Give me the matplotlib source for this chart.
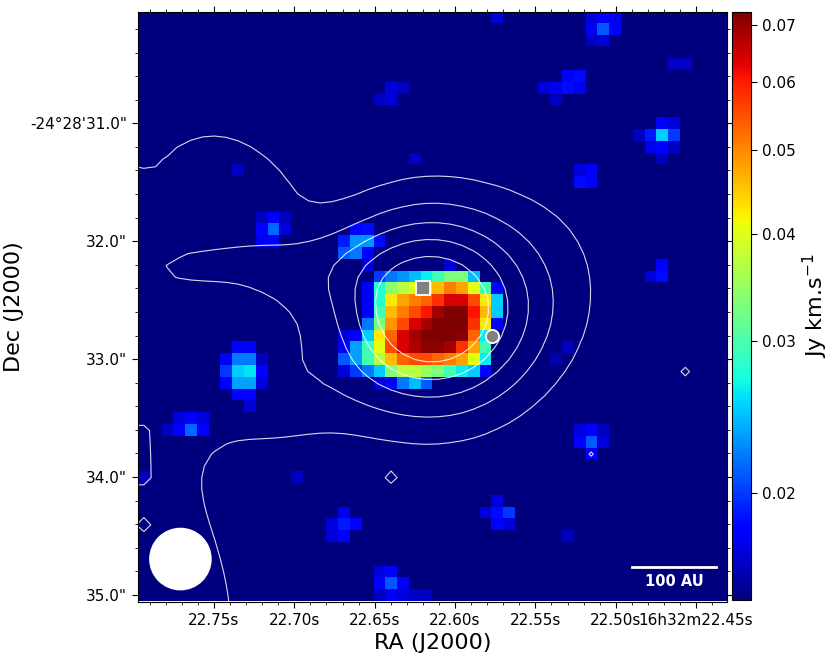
import numpy as np
import matplotlib
matplotlib.use("Agg")
import matplotlib.pyplot as plt
from matplotlib.colors import LogNorm
from matplotlib.patches import Ellipse
from matplotlib.ticker import FixedLocator, FixedFormatter, NullLocator

# ---- map geometry: 50 x 50 pixels of 0.1 arcsec ----
n_pix = 50
pix_arcsec = 0.1
dec_deg = -24.475
ra_left = 22.7973      # RA seconds (16h32m..) at the left edge
dec_top = 30.056       # Dec arcsec (-24d28m..) at the top edge
ra_pix = pix_arcsec / (15.0 * np.cos(np.radians(dec_deg)))

# ---- moment-0 map (Jy km/s x 1000); background is below the colour range ----
background = 10.0
core_col0, core_row0 = 17, 18
core_values = [
    [0,  18, 18.5, 0, 0,  0,  0,  0,  0,  0,  0,  0,  0,  0],
    [19, 23, 23, 18.5, 0, 0,  0,  0,  0,  0,  0,  0,  0,  0],
    [21, 22, 18,  0,  0,  0,  0,  0,  0,  0,  0,  0,  0,  0],
    [0,  0, 17,  0,  0,  0,  0,  0,  0, 17,  0,  0,  0,  0],
    [0,  0,  0, 20, 22, 23, 24.5, 26.5, 29.5, 33, 33, 24.5, 0, 0],
    [0,  0, 18, 28, 34, 37, 40, 42.5, 46, 51, 48, 40, 29.5, 18],
    [0,  0, 18, 28, 42.5, 48, 51, 53, 58, 64, 64, 55.5, 42.5, 25],
    [0,  0, 18, 29.5, 46, 51, 55.5, 61, 69, 73, 73, 61, 46, 25],
    [0,  0, 22, 33, 49, 55.5, 64, 69, 73, 73, 73, 58, 42.5, 18],
    [17, 18, 25, 42.5, 53, 64, 69, 73, 73, 73, 71, 53, 26.5, 0],
    [18, 23.5, 29.5, 40, 55.5, 64, 67.5, 71, 71, 69, 58, 48, 29.5, 0],
    [21, 23.5, 29.5, 37, 46, 53, 55.5, 55.5, 53, 51, 48, 40, 26.5, 0],
    [17, 20, 22, 25, 33, 37, 37, 35, 33, 29.5, 26.5, 25, 18, 0],
    [0,  0,  0, 17, 18, 22, 24.5, 21, 0,  0,  0,  0,  0,  0],
]

# isolated noise pixels: column, row (from top), value
spot_cols = [30, 38, 39, 40, 38, 39, 40, 38, 39, 45, 46,
             36, 37, 34, 35, 36, 37, 35,
             21, 22, 20, 21,
             44, 45, 42, 43, 44, 45, 43, 44, 45, 44,
             37, 38, 37, 38, 23, 8,
             10, 11, 12, 10, 11, 12, 10, 11,
             44, 43, 44,
             8, 9, 7, 8, 9, 10, 7, 8, 9, 10, 7, 8, 9, 10, 8, 9, 9,
             3, 4, 5, 2, 3, 4, 5,
             37, 38, 39, 37, 38, 39, 38,
             36, 35, 0, 13,
             30, 29, 30, 31, 30, 31,
             17, 16, 17, 18, 16, 17,
             20, 21, 20, 21, 22, 20, 21, 22, 23, 24,
             36]
spot_rows = [0, 0, 0, 0, 1, 1, 1, 2, 2, 4, 4,
             5, 5, 6, 6, 6, 6, 7,
             6, 6, 7, 7,
             9, 9, 10, 10, 10, 10, 11, 11, 11, 12,
             13, 13, 14, 14, 12, 13,
             17, 17, 17, 18, 18, 18, 19, 19,
             21, 22, 22,
             28, 28, 29, 29, 29, 29, 30, 30, 30, 30, 31, 31, 31, 31, 32, 32, 33,
             34, 34, 34, 35, 35, 35, 35,
             35, 35, 35, 36, 36, 36, 37,
             28, 29, 39, 39,
             41, 42, 42, 42, 43, 43,
             42, 43, 43, 43, 44, 44,
             47, 47, 48, 48, 48, 49, 49, 49, 49, 49,
             44]
spot_vals = [17, 17, 18, 17.5, 17.5, 21, 18, 16.5, 17, 16.5, 16.5,
             18, 18.5, 17, 17.5, 18.5, 17.5, 16.5,
             17, 16.5, 16.5, 17,
             18, 17, 16.5, 19, 25, 20, 17.5, 18, 16.5, 16.5,
             17, 18, 18.5, 18, 16.5, 16.5,
             16.5, 18, 16.5, 18, 21.5, 17, 17.5, 18,
             18, 17, 18.5,
             18, 18, 18, 22, 22, 16.5, 20, 25, 26, 18, 18, 23.5, 23.5, 17, 18, 18, 17,
             17, 18, 17, 16.5, 18, 21.5, 18,
             17, 18, 16.5, 18, 21, 17, 18,
             16.5, 16, 16.5, 16.5,
             17, 17, 18.5, 20, 18, 17,
             17.5, 17, 19, 18, 17, 18,
             17, 18, 18, 21, 18, 16.5, 17.5, 17, 16.5, 16.5,
             16.5]

# ---- contour map: smooth components (col, row, sigma col, sigma row, amplitude) ----
comp_col = [24.5, 36.0, -2.0, 6.0, 10.0, 9.0, 12.0, 11.5, 2.0, -3.0]
comp_row = [24.8, 21.0, 28.0, 12.0, 14.5, 20.8, 32.5, 28.0, 53.0, 14.0]
comp_sc = [6.0, 5.0, 8.0, 3.0, 3.0, 7.0, 5.0, 2.5, 5.0, 3.0]
comp_sr = [5.8, 7.0, 12.0, 2.2, 2.5, 2.7, 3.0, 4.0, 8.0, 3.0]
comp_amp = [6.6, 0.55, 1.5, 0.95, 0.8, 1.45, 0.8, 0.6, 1.6, 0.4]
# single-pixel features of the contour map
spike_col = [21, 46, 38, 0, 0, 0, 0, 0, 0, -1, -1, -1, -1, -1]
spike_row = [39, 30, 37, 43, 35, 36, 37, 38, 39, 35, 36, 37, 38, 39]
spike_add = [1.4, 1.5, 1.1, -0.85, -0.7, -0.7, -0.7, -0.7, -0.7,
             -0.7, -0.7, -0.7, -0.7, -0.7]
contour_levels = [1, 2, 3, 4, 5]

# sources, beam and scale bar
src_ra = [22.6202, 22.5771]
src_dec = [32.400, 32.804]
src_marker = ["s", "o"]
beam_ra, beam_dec, beam_arcsec = 22.7709, 34.696, 0.52
bar_au, dist_pc = 100, 140
bar_ra_right, bar_dec = 22.4376, 34.763

# colour scale
vmin, vmax = 0.0150, 0.0725
cbar_ticks = [0.02, 0.03, 0.04, 0.05, 0.06, 0.07]

# axis ticks
ra_major = [22.75, 22.70, 22.65, 22.60, 22.55, 22.50, 22.45]
ra_labels = ["22.75s", "22.70s", "22.65s", "22.60s", "22.55s", "22.50s", "16h32m22.45s"]
dec_major = [31.0, 32.0, 33.0, 34.0, 35.0]
dec_labels = ["-24°28'31.0\"", '32.0"', '33.0"', '34.0"', '35.0"']

# ---------------------------------------------------------------------------
img = np.full((n_pix, n_pix), background)
for r, row in enumerate(core_values):
    for c, val in enumerate(row):
        if val > 0:
            img[core_row0 + r, core_col0 + c] = val
for c, r, val in zip(spot_cols, spot_rows, spot_vals):
    img[r, c] = val
img = img / 1000.0

# contour field on a grid a bit larger than the displayed map
gcol = np.arange(-3, n_pix + 3)
cc, rr = np.meshgrid(gcol, gcol)
field = np.zeros(cc.shape)
for c0, r0, sc, sr, a in zip(comp_col, comp_row, comp_sc, comp_sr, comp_amp):
    field += a * np.exp(-0.5 * (((cc - c0) / sc) ** 2 + ((rr - r0) / sr) ** 2))
for c, r, d in zip(spike_col, spike_row, spike_add):
    field[r + 3, c + 3] += d
grid_ra = ra_left - (cc + 0.5) * ra_pix
grid_dec = dec_top + (rr + 0.5) * pix_arcsec

ra_right = ra_left - n_pix * ra_pix
dec_bottom = dec_top + n_pix * pix_arcsec

W, H = 830, 655
fig = plt.figure(figsize=(W / 100, H / 100), dpi=100)
ax = fig.add_axes([138 / W, (H - 601.5) / H, 588.5 / W, 589.5 / H])

im = ax.imshow(img, cmap="jet", norm=LogNorm(vmin=vmin, vmax=vmax),
               extent=[ra_left, ra_right, dec_bottom, dec_top],
               origin="upper", aspect="auto", interpolation="nearest")
ax.contour(grid_ra, grid_dec, field, levels=contour_levels,
           colors="white", linewidths=0.8, alpha=0.85)

for ra, dec, m in zip(src_ra, src_dec, src_marker):
    ax.plot(ra, dec, marker=m, ms=9.5, mfc="#808080", mec="white", mew=1.3, ls="none")

ra_per_arcsec = 1.0 / (15.0 * np.cos(np.radians(dec_deg)))
ax.add_patch(Ellipse((beam_ra, beam_dec), width=beam_arcsec * ra_per_arcsec,
                     height=beam_arcsec, color="white", zorder=5))

bar_arcsec = bar_au / dist_pc
bar_ra_left = bar_ra_right + bar_arcsec * ra_per_arcsec
ax.plot([bar_ra_left, bar_ra_right], [bar_dec, bar_dec], color="white", lw=2, zorder=5)
ax.text((bar_ra_left + bar_ra_right) / 2, bar_dec + 0.12, "%d AU" % bar_au,
        color="white", fontsize=10.5, fontweight="bold", ha="center", va="center")

ax.set_xlim(ra_left, ra_right)
ax.set_ylim(dec_bottom, dec_top)
ax.xaxis.set_major_locator(FixedLocator(ra_major))
ax.xaxis.set_major_formatter(FixedFormatter(ra_labels))
ax.xaxis.set_minor_locator(FixedLocator(np.round(np.arange(22.44, 22.795, 0.01), 2)))
ax.yaxis.set_major_locator(FixedLocator(dec_major))
ax.yaxis.set_major_formatter(FixedFormatter(dec_labels))
ax.yaxis.set_minor_locator(FixedLocator(np.round(np.arange(30.2, 35.01, 0.2), 1)))
ax.tick_params(which="both", direction="out", top=True, right=True,
               labeltop=False, labelright=False, labelsize=11)
ax.tick_params(which="major", length=4.5)
ax.tick_params(which="minor", length=2.5)
ax.set_xlabel("RA (J2000)", fontsize=16)
ax.set_ylabel("Dec (J2000)", fontsize=16)

cax = fig.add_axes([731.7 / W, (H - 600) / H, 18.8 / W, 588.3 / H])
cb = fig.colorbar(im, cax=cax)
cb.set_ticks(cbar_ticks)
cb.set_ticklabels(["%.2f" % t for t in cbar_ticks])
cb.ax.yaxis.set_minor_locator(NullLocator())
cb.ax.tick_params(labelsize=11, length=4.5)
cb.set_label("Jy km.s$^{-1}$", fontsize=16)

fig.savefig("out.png", dpi=100)
